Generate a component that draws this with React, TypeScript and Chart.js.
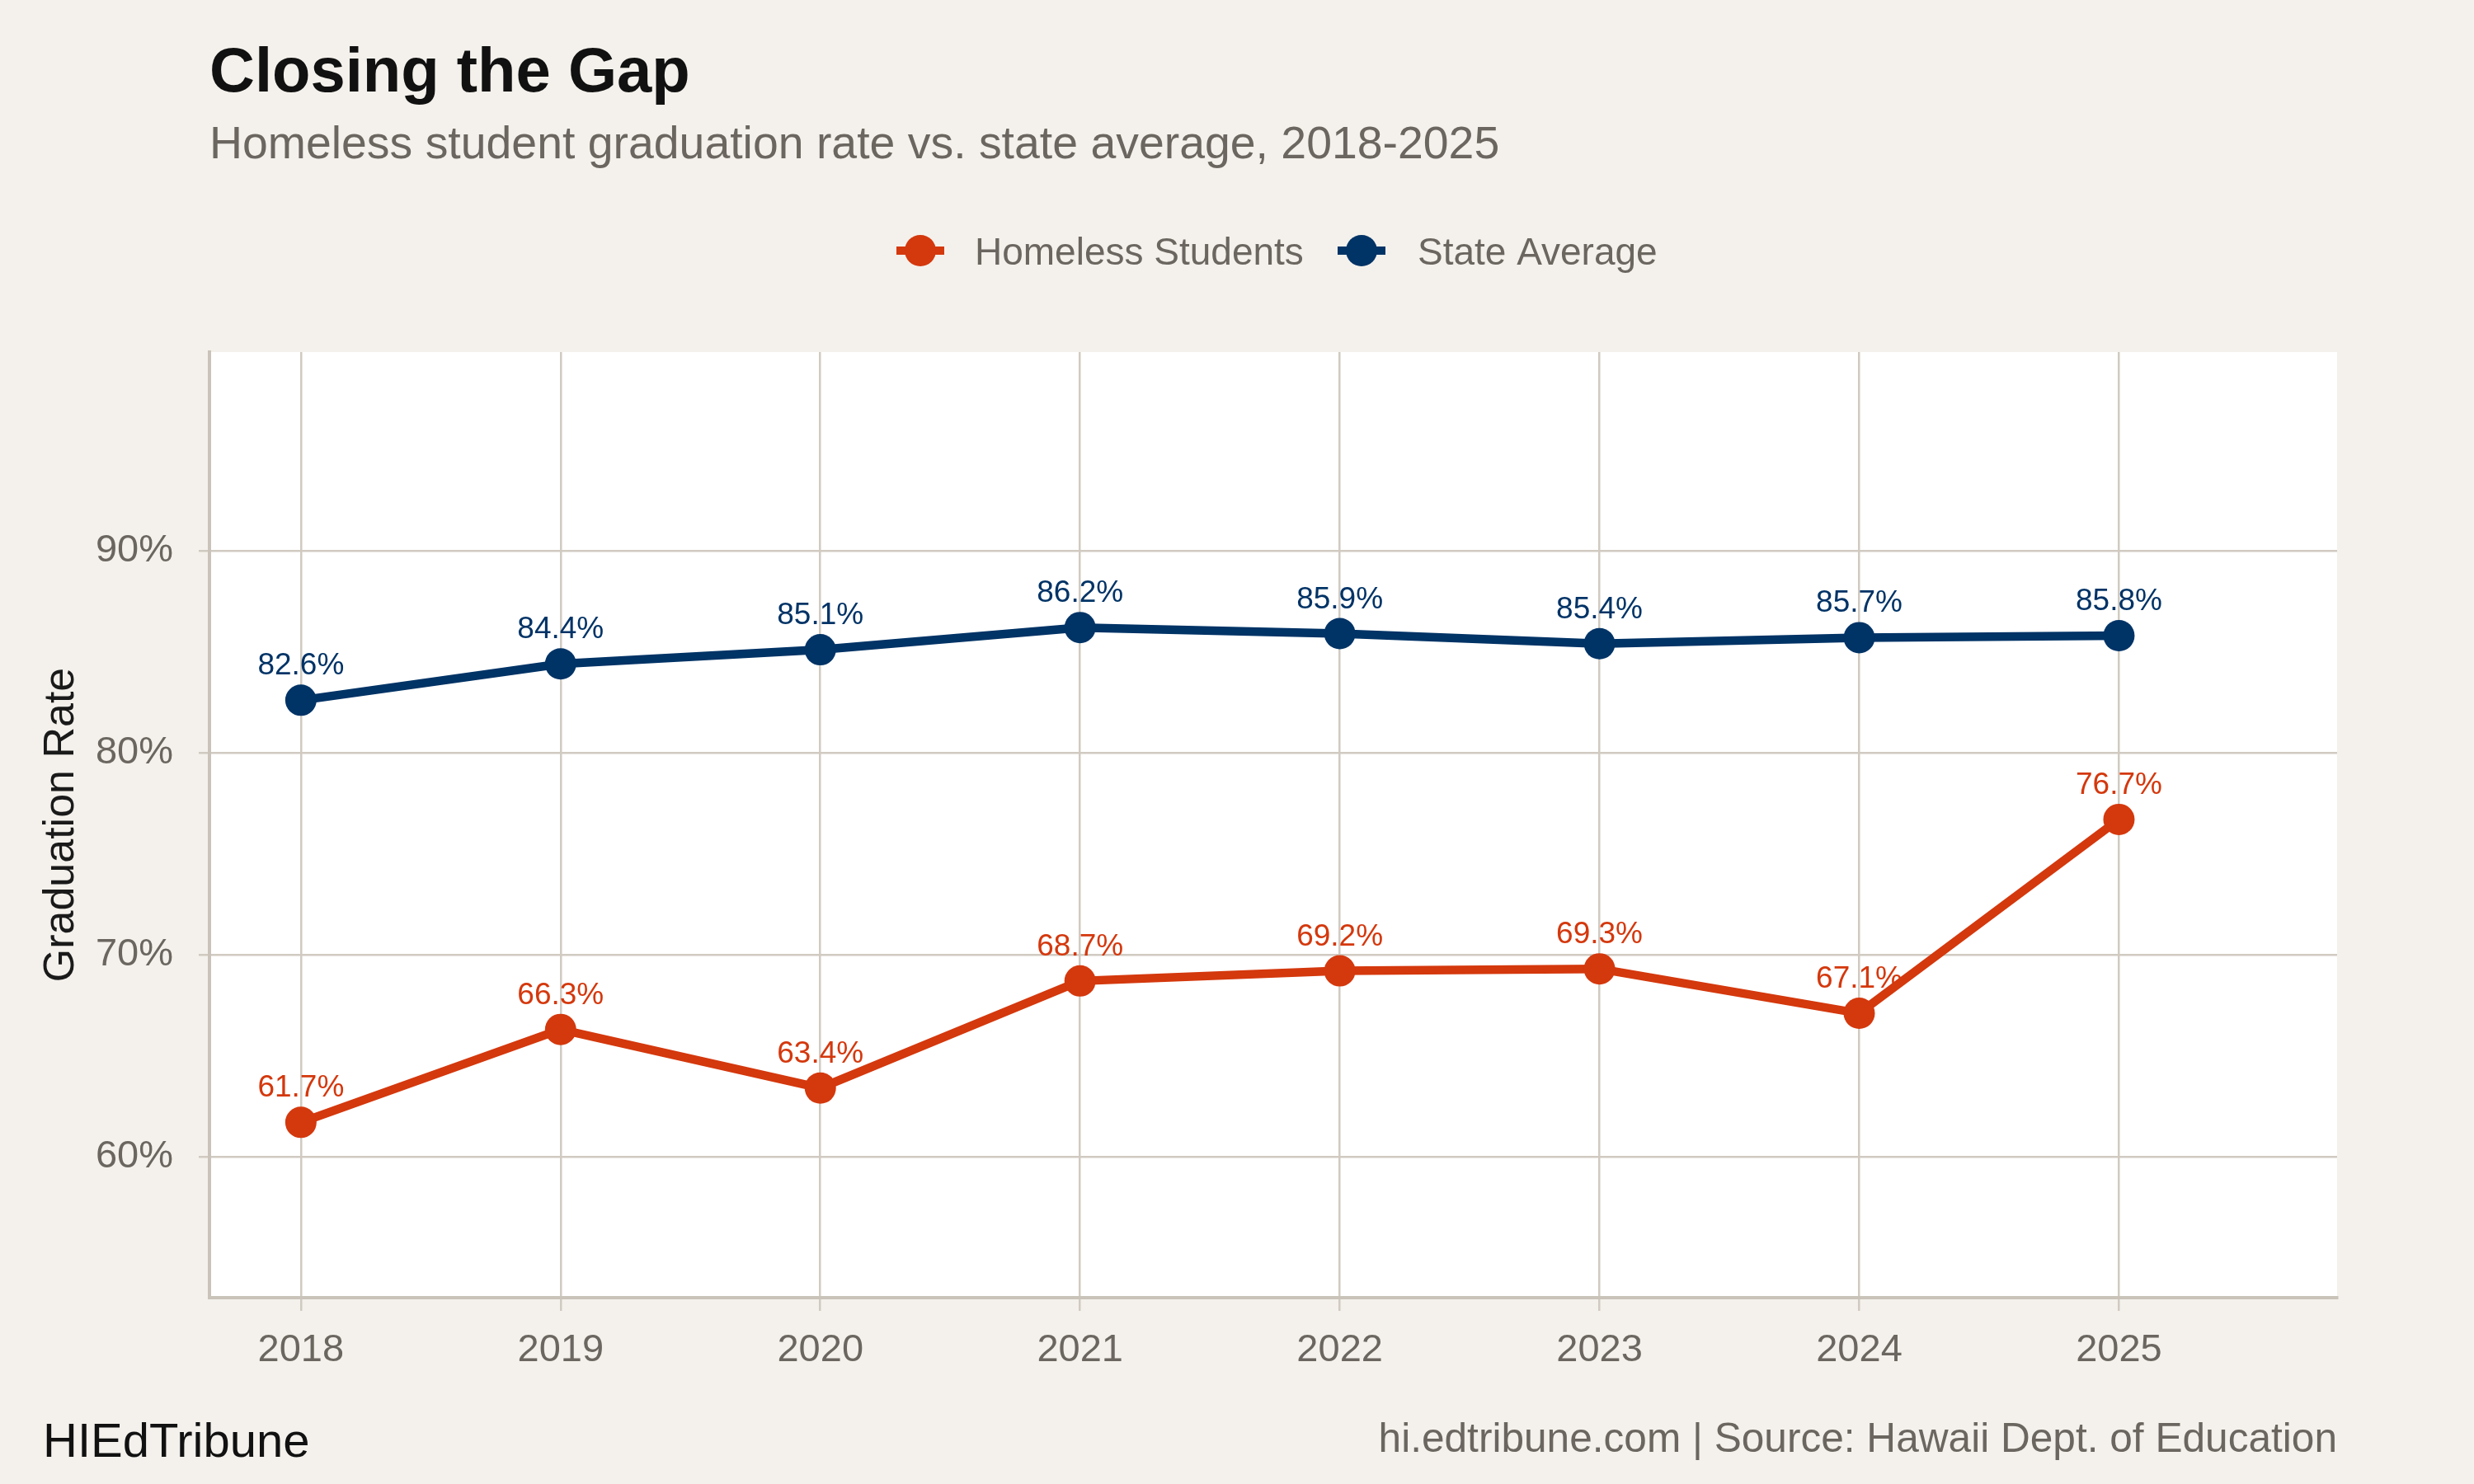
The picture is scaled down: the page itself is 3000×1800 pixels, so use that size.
import React, { useEffect, useRef } from "react";
import { Chart, registerables } from "chart.js";

Chart.register(...registerables);

const years = [2018, 2019, 2020, 2021, 2022, 2023, 2024, 2025];
const homelessRates = [61.7, 66.3, 63.4, 68.7, 69.2, 69.3, 67.1, 76.7];
const stateRates = [82.6, 84.4, 85.1, 86.2, 85.9, 85.4, 85.7, 85.8];
const yTicks = [60, 70, 80, 90];

const seriesNames = ["Homeless Students", "State Average"];
const titleText = "Closing the Gap";
const subtitleText = "Homeless student graduation rate vs. state average, 2018-2025";
const yAxisTitle = "Graduation Rate";
const brandText = "HIEdTribune";
const sourceText = "hi.edtribune.com | Source: Hawaii Dept. of Education";

const ORANGE = "#d4380d";
const NAVY = "#003366";
const BG = "#f4f1ec";
const GRID = "#d0cac1";
const AXIS = "#c9c3b9";
const GREY_TEXT = "#6b6760";
const FONT = "'Liberation Sans', Arial, Helvetica, sans-serif";

const W = 3000;
const H = 1800;

const decorPlugin = {
  id: "decor",
  beforeDraw(chart: any) {
    const { ctx, chartArea } = chart;
    ctx.save();
    ctx.fillStyle = BG;
    ctx.fillRect(0, 0, chart.width, chart.height);
    ctx.fillStyle = "#ffffff";
    ctx.fillRect(
      chartArea.left,
      chartArea.top,
      chartArea.right - chartArea.left,
      chartArea.bottom - chartArea.top
    );
    ctx.restore();
  },
  beforeDatasetsDraw(chart: any) {
    // value labels above each point, drawn beneath the lines
    const { ctx } = chart;
    ctx.save();
    ctx.font = `37px ${FONT}`;
    ctx.textAlign = "center";
    ctx.textBaseline = "alphabetic";
    chart.data.datasets.forEach((ds: any, i: number) => {
      const meta = chart.getDatasetMeta(i);
      ctx.fillStyle = ds.borderColor;
      meta.data.forEach((pt: any, j: number) => {
        const v = ds.data[j].y;
        ctx.fillText(`${v.toFixed(1)}%`, pt.x, pt.y - 31);
      });
    });
    ctx.restore();
  },
  afterDraw(chart: any) {
    const { ctx, chartArea } = chart;
    ctx.save();

    // title + subtitle
    ctx.textAlign = "left";
    ctx.textBaseline = "alphabetic";
    ctx.fillStyle = "#111111";
    ctx.font = `bold 76px ${FONT}`;
    ctx.fillText(titleText, 254, 111);
    ctx.fillStyle = GREY_TEXT;
    ctx.font = `55.4px ${FONT}`;
    ctx.fillText(subtitleText, 254, 192);

    // legend: line-through-point keys
    const legendY = 304;
    const keys = [
      { x: 1116, textX: 1182, color: ORANGE, label: seriesNames[0] },
      { x: 1651, textX: 1719, color: NAVY, label: seriesNames[1] },
    ];
    ctx.font = `46px ${FONT}`;
    keys.forEach((k) => {
      ctx.strokeStyle = k.color;
      ctx.lineWidth = 10;
      ctx.lineCap = "butt";
      ctx.beginPath();
      ctx.moveTo(k.x - 29, legendY);
      ctx.lineTo(k.x + 29, legendY);
      ctx.stroke();
      ctx.fillStyle = k.color;
      ctx.beginPath();
      ctx.arc(k.x, legendY, 19, 0, Math.PI * 2);
      ctx.fill();
      ctx.fillStyle = GREY_TEXT;
      ctx.fillText(k.label, k.textX, 321);
    });

    // y axis title
    ctx.save();
    ctx.translate(89, (chartArea.top + chartArea.bottom) / 2);
    ctx.rotate(-Math.PI / 2);
    ctx.textAlign = "center";
    ctx.fillStyle = "#1a1a1a";
    ctx.font = `52px ${FONT}`;
    ctx.fillText(yAxisTitle, 0, 0);
    ctx.restore();

    // footer
    ctx.textAlign = "left";
    ctx.fillStyle = "#111111";
    ctx.font = `58px ${FONT}`;
    ctx.fillText(brandText, 52, 1767);
    ctx.textAlign = "right";
    ctx.fillStyle = GREY_TEXT;
    ctx.font = `49.6px ${FONT}`;
    ctx.fillText(sourceText, chartArea.right, 1761);

    ctx.restore();
  },
};

export default function App() {
  const canvasRef = useRef<HTMLCanvasElement | null>(null);

  useEffect(() => {
    if (!canvasRef.current) return;
    const toPoints = (vals: number[]) => vals.map((v, i) => ({ x: years[i], y: v }));

    const chart = new Chart(canvasRef.current, {
      type: "line",
      data: {
        datasets: [
          {
            label: seriesNames[0],
            data: toPoints(homelessRates),
            borderColor: ORANGE,
            backgroundColor: ORANGE,
            borderWidth: 10.5,
            pointRadius: 19,
            pointBorderWidth: 0,
            pointBackgroundColor: ORANGE,
            tension: 0,
          },
          {
            label: seriesNames[1],
            data: toPoints(stateRates),
            borderColor: NAVY,
            backgroundColor: NAVY,
            borderWidth: 10.5,
            pointRadius: 19,
            pointBorderWidth: 0,
            pointBackgroundColor: NAVY,
            tension: 0,
          },
        ],
      },
      options: {
        responsive: false,
        animation: false,
        devicePixelRatio: 1,
        layout: { padding: { left: 0, top: 427, right: 166, bottom: 0 } },
        plugins: {
          legend: { display: false },
          title: { display: false },
          tooltip: { enabled: false },
        },
        scales: {
          x: {
            type: "linear",
            min: 2017.648,
            max: 2025.84,
            afterBuildTicks: (scale: any) => {
              scale.ticks = years.map((v) => ({ value: v }));
            },
            afterFit: (scale: any) => {
              scale.height = H - 1574;
            },
            ticks: {
              callback: (v: any) => String(v),
              font: { size: 47, family: FONT },
              color: GREY_TEXT,
              padding: 20,
              maxRotation: 0,
              autoSkip: false,
            },
            grid: {
              color: GRID,
              lineWidth: 2.5,
              tickLength: 16,
              drawTicks: true,
            },
            border: { display: true, color: AXIS, width: 4 },
          },
          y: {
            type: "linear",
            min: 53.02,
            max: 99.84,
            afterBuildTicks: (scale: any) => {
              scale.ticks = yTicks.map((v) => ({ value: v }));
            },
            afterFit: (scale: any) => {
              scale.width = 254;
            },
            ticks: {
              callback: (v: any) => `${v}%`,
              font: { size: 47, family: FONT },
              color: GREY_TEXT,
              padding: 31,
            },
            grid: {
              color: GRID,
              lineWidth: 2.5,
              tickLength: 13,
              drawTicks: true,
            },
            border: { display: true, color: AXIS, width: 4 },
          },
        },
      },
      plugins: [decorPlugin],
    } as any);

    return () => chart.destroy();
  }, []);

  return (
    <div style={{ position: "absolute", left: 0, top: 0, width: W, height: H }}>
      <canvas ref={canvasRef} width={W} height={H} style={{ display: "block" }} />
    </div>
  );
}
